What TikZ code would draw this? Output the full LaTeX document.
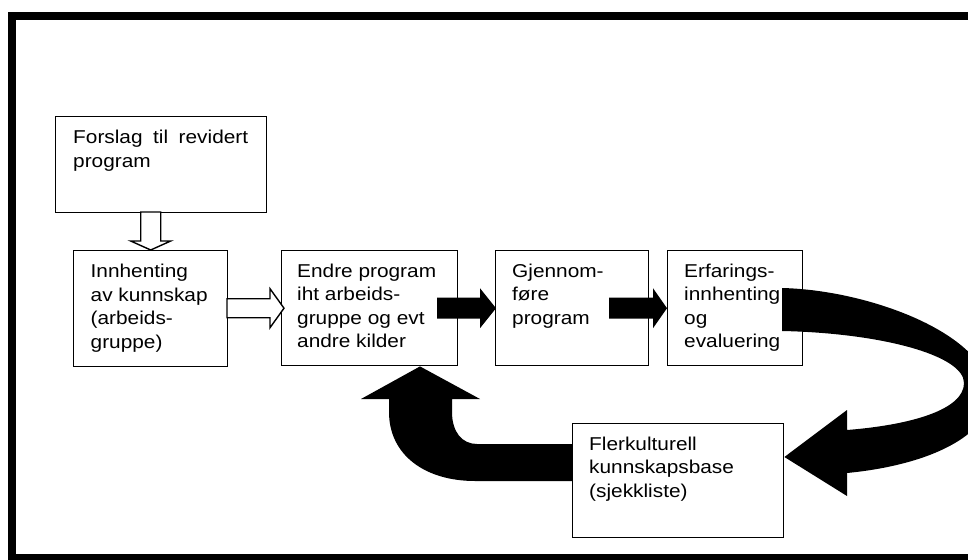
\documentclass[tikz,border=0pt]{standalone}
\usepackage{fontspec}
\newfontfamily\lab{Liberation Sans}[FakeStretch=1.12]
\newcommand\firstline{\rule{0pt}{15pt}}
\begin{document}
\begin{tikzpicture}[x=1pt,y=-1pt,
  box/.style={draw=black, line width=1.4pt, fill=white, inner sep=0pt, anchor=north west},
  txt/.style={font=\lab\fontsize{18.6}{23.5}\selectfont, align=left, inner sep=0pt, anchor=north west},
  blk/.style={fill=black},
  opn/.style={draw=black, line width=1.4pt, fill=white, line join=miter}]
\useasboundingbox (0,0) rectangle (968,559);
\clip (0,0) rectangle (968,559);
\fill[white] (0,0) rectangle (968,559);
\draw[line width=8pt] (12,16) rectangle (990,558);

% boxes
\node[box, minimum width=211pt, minimum height=96pt]  (b1) at (55,116) {};
\node[box, minimum width=154pt, minimum height=116pt] (b2) at (73,250) {};
\node[box, minimum width=176pt, minimum height=115pt] (b3) at (281,250) {};
\node[box, minimum width=153pt, minimum height=115pt] (b4) at (495,250) {};
\node[box, minimum width=135pt, minimum height=115pt] (b5) at (667,250) {};
\node[box, minimum width=211pt, minimum height=114pt] (b6) at (572,423) {};

% texts
\node[txt] (t1) at (73,128.5) {\firstline\makebox[175pt][s]{Forslag til revidert}\\program};
\node[txt] (t2) at (90.5,262.5) {\firstline Innhenting\\av kunnskap\\(arbeids-\\gruppe)};
\node[txt] (t3) at (297,262) {\firstline Endre program\\iht arbeids-\\gruppe og evt\\andre kilder};
\node[txt] (t4) at (512,262) {\firstline Gjennom-\\føre\\program};
\node[txt] (t5) at (684,262) {\firstline Erfarings-\\innhenting\\og\\evaluering};
\node[txt] (t6) at (589,435) {\firstline Flerkulturell\\kunnskapsbase\\(sjekkliste)};

% open arrows
\draw[opn, shift={(b2.north)}] (-10,-38) -- (-10,-9) -- (-20,-9) -- (0,0) -- (20,-9) -- (10,-9) -- (10,-38) -- cycle;
\draw[opn, shift={(b3.west)}] (-54,-9.5) -- (-11,-9.5) -- (-11,-19.5) -- (3,0) -- (-11,19.5) -- (-11,9.5) -- (-54,9.5) -- cycle;

% black straight arrows
\fill[blk, shift={(b4.west)}] (-58,-10.5) -- (-15,-10.5) -- (-15,-20) -- (1,0) -- (-15,20) -- (-15,10.5) -- (-58,10.5) -- cycle;
\fill[blk, shift={(b5.west)}] (-58,-10.5) -- (-14,-10.5) -- (-14,-20) -- (0,0) -- (-14,20) -- (-14,10.5) -- (-58,10.5) -- cycle;

% big curved arrow from b5 to b6
\coordinate (tip6) at (b6.east |- 0,457);
\fill[blk] (782,288) .. controls (870,290) and (990,335) .. (990,395)
  .. controls (990,435) and (930,465) .. (847,473) -- (847,496) -- (tip6) -- (847,410) -- (847,430)
  .. controls (910,425) and (964,410) .. (964,383)
  .. controls (964,355) and (880,333) .. (782,331) -- cycle;

% curved arrow from b6 to b3
\coordinate (tip3) at (b3.south -| 420,0);
\fill[blk] (b6.west |- 0,444) -- (477,444) .. controls (462,444) and (452,432) .. (452,412) -- (452,399) -- (480,399)
  -- (tip3) -- (361,399) -- (389,399) -- (389,412)
  .. controls (389,455) and (425,481) .. (475,481) -- (b6.west |- 0,481) -- cycle;
\end{tikzpicture}
\end{document}
